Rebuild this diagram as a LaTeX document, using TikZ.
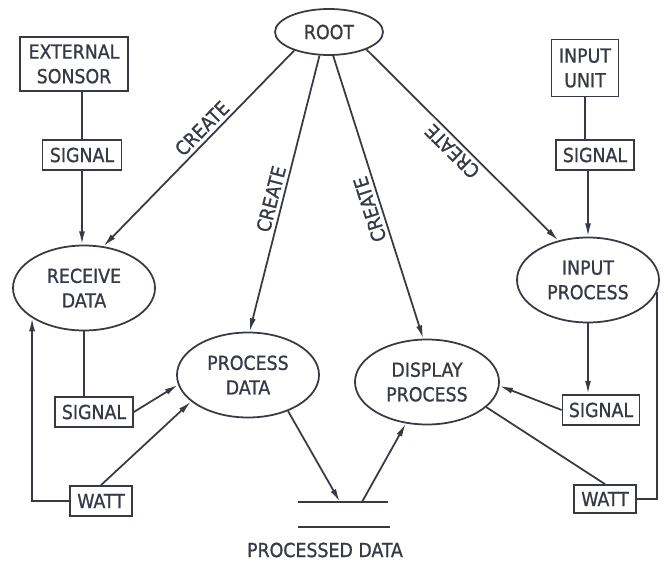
\documentclass[tikz,border=0pt]{standalone}
\usepackage{fontspec}
\newfontfamily\diagfont[FakeBold=1]{DejaVu Sans Condensed}
\usetikzlibrary{shapes.geometric,arrows.meta}
\definecolor{ink}{RGB}{55,58,70}
\tikzset{
  task/.style={ellipse,draw,inner sep=0pt,minimum width=4.26cm,minimum height=2.55cm,align=center},
  unit/.style={rectangle,draw,inner sep=0pt,minimum height=0.9cm,align=center},
  flow/.style={-{Latex[length=4mm,width=1.8mm]}},
  create/.style={anchor=south,inner sep=3pt}
}
\begin{document}
\begin{tikzpicture}[x=0.03cm,y=-0.03cm,color=ink,line width=1.5pt,
    every node/.style={font=\diagfont\fontsize{16.5}{21}\selectfont}]
            \useasboundingbox (0,0) rectangle (668,563);
            % root
            \node[task,minimum width=3.24cm,minimum height=1.38cm] (root) at (329,32) {ROOT};
            % left hand
            \node[unit,minimum width=3.24cm,minimum height=1.62cm] (sensor) at (74,64) {EXTERNAL\\SONSOR};
            \node[unit,minimum width=2.37cm] (sigA) at (82,155) {SIGNAL};
            \node[task] (receive) at (84,288) {RECEIVE\\DATA};
            \node[unit,minimum width=2.34cm] (sigB) at (94,412) {SIGNAL};
            \node[unit,minimum width=1.86cm] (wattA) at (101,501) {WATT};
            % middle
            \node[task] (procdata) at (248,375) {PROCESS\\DATA};
            \node[task,minimum width=4.32cm] (display) at (427,382) {DISPLAY\\PROCESS};
            % right hand
            \node[unit,minimum width=2.01cm,minimum height=1.71cm] (inunit) at (585,68) {INPUT\\UNIT};
            \node[unit,minimum width=2.34cm] (sigC) at (595,155) {SIGNAL};
            \node[task] (inproc) at (588,280) {INPUT\\PROCESS};
            \node[unit,minimum width=2.31cm] (sigD) at (601,410) {SIGNAL};
            \node[unit,minimum width=1.86cm,minimum height=0.84cm] (wattB) at (605,499) {WATT};
            % data store
            \coordinate (storeNW) at (298,502);
            \coordinate (storeNE) at (388,502);
            \coordinate (storeSW) at (298,527);
            \coordinate (storeSE) at (390,527);
            \coordinate (storein) at (340,502);
            \coordinate (storeout) at (362,502);
            \draw (storeNW) -- (storeNE) (storeSW) -- (storeSE);
            \node (storelbl) at (325,550) {PROCESSED DATA};
            % create
            \draw[flow] (root.208) -- (receive.65) node[create,pos=0.44,rotate=45.4] {CREATE};
            \draw[flow] (root.248) -- (procdata.88) node[create,pos=0.53,rotate=75.6] {CREATE};
            \draw[flow] (root.280) -- (display.95) node[create,pos=0.53,rotate=107.7] {CREATE};
            \draw[flow] (root.335) -- (inproc.127) node[create,pos=0.49,rotate=135.4] {CREATE};
            % left flows
            \draw (sigA.north) -- (sigA.north |- sensor.south);
            \draw[flow] (sigA.south) -- (sigA.south |- receive.north);
            \draw (receive.south) -- (receive.south |- sigB.north);
            \draw[flow] (sigB.east) -- (procdata.188);
            \draw[flow] (wattA.north) -- (procdata.205);
            \draw[flow] (wattA.west) -| (receive.210);
            \draw[flow] (procdata.318) -- (storein);
            \draw[flow] (storeout) -- (display.243);
            % right flows
            \draw (inunit.south) -- (inunit.south |- sigC.north);
            \draw[flow] (sigC.south -| inproc.north) -- (inproc.north);
            \draw[flow] (inproc.south) -- (inproc.south |- sigD.north);
            \draw[flow] (sigD.west) -- (display.357);
            \draw (display.337) -- (wattB.north);
            \draw (wattB.east) -| (inproc.350);
        \end{tikzpicture}
\end{document}
